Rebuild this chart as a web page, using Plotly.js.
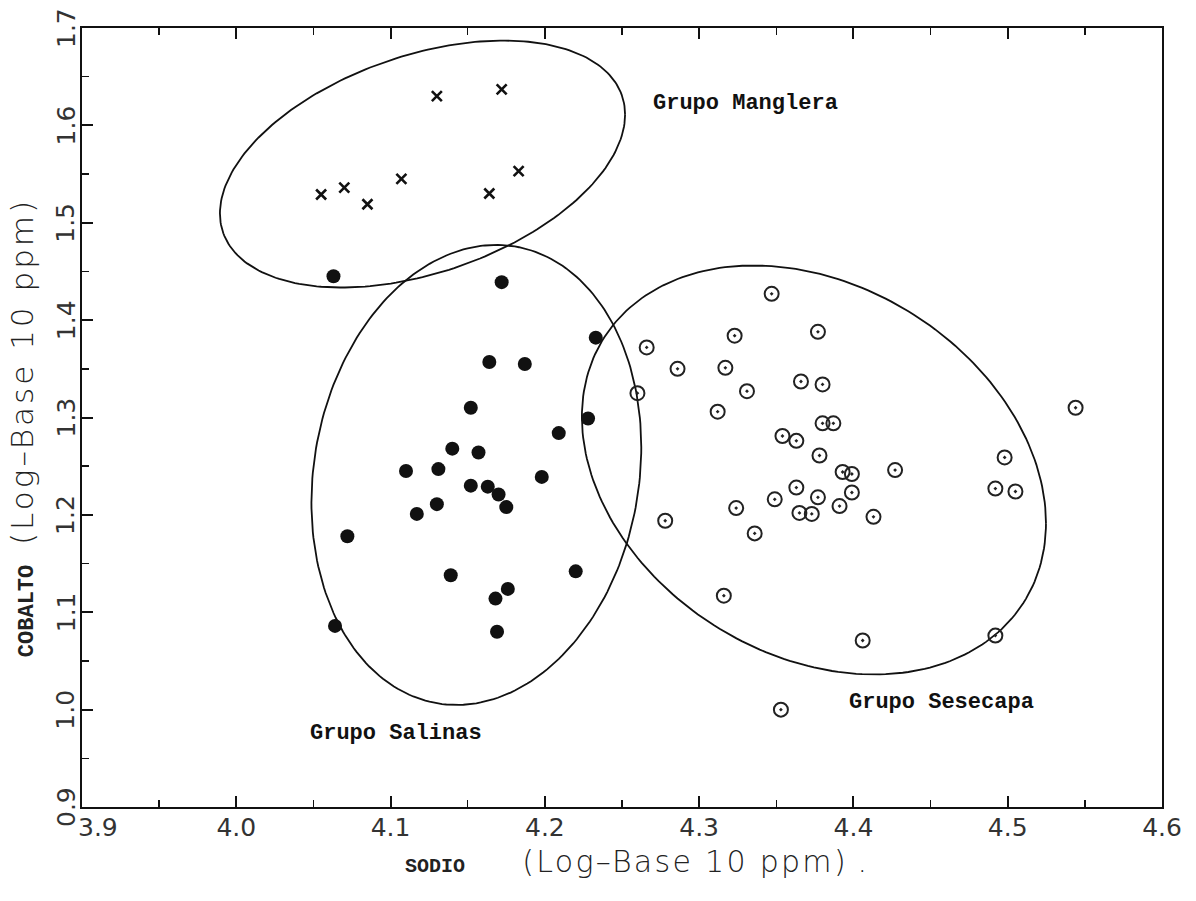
<!DOCTYPE html>
<html><head><meta charset="utf-8">
<script src="https://cdn.plot.ly/plotly-3.0.1.min.js"></script>
<style>html,body{margin:0;padding:0;background:#fff}</style>
</head><body><div id="chart" style="width:1196px;height:901px"></div>
<script>
// Grupo Manglera (x marks)
const mangleraX = [4.055, 4.070, 4.085, 4.107, 4.130, 4.172, 4.164, 4.183];
const mangleraY = [1.529, 1.536, 1.519, 1.545, 1.630, 1.637, 1.530, 1.553];
// Grupo Salinas (filled dots)
const salinasX = [4.063, 4.172, 4.233, 4.164, 4.187, 4.152, 4.228, 4.209, 4.140, 4.157, 4.110, 4.131, 4.198, 4.152, 4.163, 4.170, 4.130, 4.175, 4.117, 4.072, 4.139, 4.220, 4.176, 4.168, 4.169, 4.064];
const salinasY = [1.445, 1.439, 1.382, 1.357, 1.355, 1.310, 1.299, 1.284, 1.268, 1.264, 1.245, 1.247, 1.239, 1.230, 1.229, 1.221, 1.211, 1.208, 1.201, 1.178, 1.138, 1.142, 1.124, 1.114, 1.080, 1.086];
// Grupo Sesecapa (open circles)
const sesecapaX = [4.347, 4.323, 4.377, 4.266, 4.286, 4.317, 4.366, 4.380, 4.331, 4.260, 4.312, 4.380, 4.387, 4.354, 4.363, 4.378, 4.393, 4.399, 4.427, 4.363, 4.349, 4.377, 4.399, 4.391, 4.324, 4.365, 4.373, 4.413, 4.278, 4.336, 4.544, 4.498, 4.492, 4.505, 4.316, 4.406, 4.492, 4.353];
const sesecapaY = [1.427, 1.384, 1.388, 1.372, 1.350, 1.351, 1.337, 1.334, 1.327, 1.325, 1.306, 1.294, 1.294, 1.281, 1.276, 1.261, 1.244, 1.242, 1.246, 1.228, 1.216, 1.218, 1.223, 1.209, 1.207, 1.202, 1.201, 1.198, 1.194, 1.181, 1.310, 1.259, 1.227, 1.224, 1.117, 1.071, 1.076, 1.000];

// Group ellipses: centre, half-extent in x and y, correlation
const groupNames = ['Grupo Manglera', 'Grupo Salinas', 'Grupo Sesecapa'];
const ellipseCx = [4.1207, 4.1556, 4.3744];
const ellipseCy = [1.5603, 1.2410, 1.2461];
const ellipseHx = [0.1313, 0.1069, 0.1504];
const ellipseHy = [0.1268, 0.2362, 0.2100];
const ellipseRho = [0.40, 0.12, -0.26];
// label anchors (data coords)
const labelX = [4.330, 4.1035, 4.457];
const labelY = [1.622, 0.975, 1.007];

const xTicks = [3.9, 4.0, 4.1, 4.2, 4.3, 4.4, 4.5, 4.6];
const xTickText = ['\u00A0\u00A0\u00A0\u00A03.9', '4.0', '4.1', '4.2', '4.3', '4.4', '4.5', '4.6'];
const xMinorTicks = [3.95, 4.05, 4.15, 4.25, 4.35, 4.45, 4.55];
const yTicks = [0.9, 1.0, 1.1, 1.2, 1.3, 1.4, 1.5, 1.6, 1.7];
const yTickText = ['0.9', '1.0', '1.1', '1.2', '1.3', '1.4', '1.5', '1.6', '1.7'];
const yMinorTicks = [0.95, 1.05, 1.15, 1.25, 1.35, 1.45, 1.55, 1.65];

const traces = [];
for (let k = 0; k < groupNames.length; k++) {
  const ex = [], ey = [];
  const N = 240;
  const s = Math.sqrt(1 - ellipseRho[k] * ellipseRho[k]);
  for (let i = 0; i <= N; i++) {
    const t = 2 * Math.PI * i / N;
    ex.push(ellipseCx[k] + ellipseHx[k] * Math.cos(t));
    ey.push(ellipseCy[k] + ellipseHy[k] * (ellipseRho[k] * Math.cos(t) + s * Math.sin(t)));
  }
  traces.push({x: ex, y: ey, mode: 'lines', type: 'scatter', line: {color: '#111', width: 1.8}, hoverinfo: 'skip', showlegend: false});
}
traces.push({x: mangleraX, y: mangleraY, mode: 'markers', type: 'scatter', name: 'Manglera',
  marker: {symbol: 'x-thin', size: 10, line: {color: '#111', width: 2.6}}, showlegend: false});
traces.push({x: salinasX, y: salinasY, mode: 'markers', type: 'scatter', name: 'Salinas',
  marker: {symbol: 'circle', size: 14, color: '#111'}, showlegend: false});
traces.push({x: sesecapaX, y: sesecapaY, mode: 'markers', type: 'scatter', name: 'Sesecapa',
  marker: {symbol: 'circle-open-dot', size: 14, color: '#222', line: {color: '#222', width: 2}}, showlegend: false});
// invisible trace to activate the minor-tick overlay axes
traces.push({x: [3.9], y: [0.9], xaxis: 'x2', yaxis: 'y2', mode: 'markers', marker: {opacity: 0}, hoverinfo: 'skip', showlegend: false});

const tickFont = {family: 'DejaVu Sans', size: 25, color: '#333'};
const annotations = groupNames.map((g, k) => ({
  x: labelX[k], y: labelY[k], xref: 'x', yref: 'y', text: g, showarrow: false,
  font: {family: 'Liberation Mono', size: 22, color: '#111', weight: 'bold'}
}));
// rotated y tick labels placed on the y scale
yTicks.forEach((v, i) => annotations.push({
  xref: 'paper', yref: 'y', x: -0.0148, y: v, xanchor: 'center', yanchor: 'middle',
  showarrow: false, textangle: -90, text: yTickText[i], font: tickFont
}));
annotations.push({
  xref: 'paper', yref: 'paper', x: 0.5125, y: -0.070, xanchor: 'center', yanchor: 'middle', showarrow: false,
  text: '<span style="font-family:\'Liberation Mono\';font-size:20px;font-weight:bold">SODIO</span>\u00A0\u00A0\u00A0\u00A0\u00A0\u00A0<span style="letter-spacing:2.3px">(Log\u2013Base 10 ppm)</span> .',
  font: {family: 'DejaVu Sans', size: 30, color: '#222', weight: 300}
});
annotations.push({
  xref: 'paper', yref: 'paper', x: -0.056, y: 0.487, xanchor: 'center', yanchor: 'middle', showarrow: false, textangle: -90,
  text: '<span style="font-family:\'Liberation Mono\';font-size:22px;font-weight:bold">COBALTO</span>\u00A0\u00A0<span style="letter-spacing:3px">(Log\u2013Base 10 ppm)</span>',
  font: {family: 'DejaVu Sans', size: 31, color: '#222', weight: 300}
});

const layout = {
  width: 1196, height: 901,
  margin: {l: 82, r: 34, t: 28, b: 94},
  paper_bgcolor: '#fff', plot_bgcolor: '#fff',
  showlegend: false,
  xaxis: {
    range: [3.9, 4.6], tickmode: 'array', tickvals: xTicks, ticktext: xTickText,
    ticks: 'inside', ticklen: 11, tickwidth: 2, tickcolor: '#111', ticklabelstandoff: -3,
    showline: true, linecolor: '#111', linewidth: 2, mirror: 'ticks',
    showgrid: false, zeroline: false, tickfont: tickFont
  },
  yaxis: {
    range: [0.9, 1.7], tickmode: 'array', tickvals: yTicks, showticklabels: false,
    ticks: 'inside', ticklen: 11, tickwidth: 2, tickcolor: '#111',
    showline: true, linecolor: '#111', linewidth: 2, mirror: true,
    showgrid: false, zeroline: false
  },
  xaxis2: {
    overlaying: 'x', anchor: 'y', side: 'bottom', range: [3.9, 4.6], tickmode: 'array', tickvals: xMinorTicks,
    ticks: 'inside', ticklen: 7, tickwidth: 1.5, tickcolor: '#111', showticklabels: false,
    showline: false, mirror: 'ticks', showgrid: false, zeroline: false
  },
  yaxis2: {
    overlaying: 'y', anchor: 'x', side: 'left', range: [0.9, 1.7], tickmode: 'array', tickvals: yMinorTicks,
    ticks: 'inside', ticklen: 7, tickwidth: 1.5, tickcolor: '#111', showticklabels: false,
    showline: false, showgrid: false, zeroline: false
  },
  annotations: annotations
};
Plotly.newPlot('chart', traces, layout, {staticPlot: true});
</script></body></html>
